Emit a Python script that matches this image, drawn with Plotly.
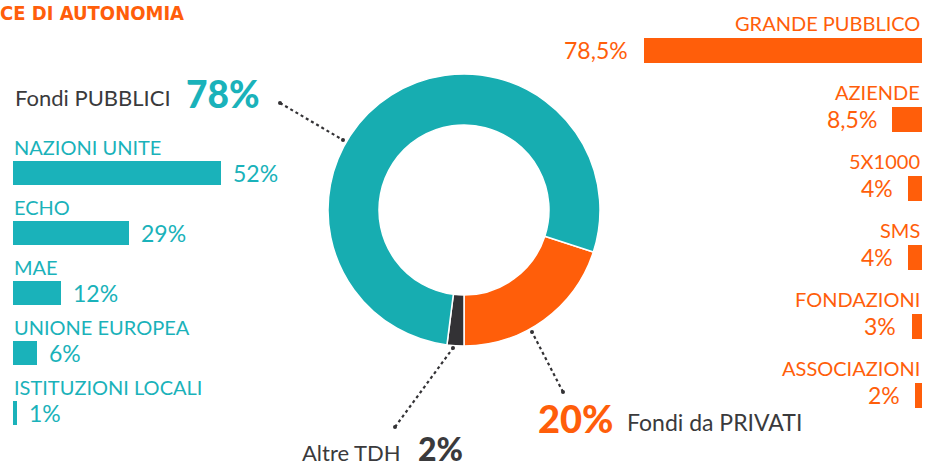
import plotly.graph_objects as go

W, H = 925, 467

TEAL = "#1AB2BA"
TEAL_RING = "#17ADB1"
ORANGE = "#FF5E0A"
DARK = "#333235"
GRAY = "#3A3A3C"
FONT = "Lato"
TITLE_FONT = "DejaVu Sans Condensed, Liberation Sans Narrow, Arial Narrow, sans-serif"

pie_labels = ["Fondi da PRIVATI", "Altre TDH", "Fondi PUBBLICI"]
pie_values = [20, 2, 78]

pub_cats = ["NAZIONI UNITE", "ECHO", "MAE", "UNIONE EUROPEA", "ISTITUZIONI LOCALI"]
pub_vals = [52, 29, 12, 6, 1]
pub_text = ["52%", "29%", "12%", "6%", "1%"]

priv_cats = ["GRANDE PUBBLICO", "AZIENDE", "5X1000", "SMS", "FONDAZIONI", "ASSOCIAZIONI"]
priv_vals = [78.5, 8.5, 4, 4, 3, 2]
priv_text = ["78,5%", "8,5%", "4%", "4%", "3%", "2%"]


def px(x):
    return x / W


def py(y):
    return 1 - y / H


fig = go.Figure()

# Donut
cx, cy, R = 464, 210, 136
fig.add_trace(go.Pie(
    labels=pie_labels, values=pie_values, hole=0.625, sort=False,
    direction="clockwise", rotation=108, textinfo="none", hoverinfo="label+percent",
    marker=dict(colors=[ORANGE, DARK, TEAL_RING], line=dict(color="white", width=1.5)),
    domain=dict(x=[px(cx - R), px(cx + R)], y=[py(cy + R), py(cy - R)]),
    showlegend=False,
))

# Public funds bars (left)
pub_idx = list(range(len(pub_cats)))
fig.add_trace(go.Bar(
    x=pub_vals, y=pub_idx, orientation="h", marker=dict(color=TEAL, line=dict(width=0)),
    width=0.39, xaxis="x", yaxis="y", showlegend=False, hovertext=pub_cats, hoverinfo="text+x",
))

# Private funds bars (right)
priv_idx = list(range(len(priv_cats)))
fig.add_trace(go.Bar(
    x=priv_vals, y=priv_idx, orientation="h", marker=dict(color=ORANGE, line=dict(width=0)),
    width=0.35, xaxis="x2", yaxis="y2", showlegend=False, hovertext=priv_cats, hoverinfo="text+x",
))

ax_common = dict(showgrid=False, zeroline=False, showticklabels=False, showline=False, ticks="", fixedrange=True)

fig.update_layout(
    width=W, height=H,
    margin=dict(l=0, r=0, t=0, b=0),
    paper_bgcolor="white", plot_bgcolor="rgba(0,0,0,0)",
    bargap=0,
    xaxis=dict(domain=[px(13), px(253)], range=[0, 60], **ax_common),
    yaxis=dict(domain=[py(443), py(143)], range=[4.5, -0.5], **ax_common),
    xaxis2=dict(domain=[px(602.5), px(922)], range=[90, 0], anchor="y2", **ax_common),
    yaxis2=dict(domain=[py(429.5), py(15.5)], range=[5.5, -0.5], anchor="x2", **ax_common),
)

ann = []
for i, (c, v, t) in enumerate(zip(pub_cats, pub_vals, pub_text)):
    ann.append(dict(x=0, y=i, xref="x", yref="y", text=c, showarrow=False, xanchor="left",
                    yanchor="middle", yshift=26, xshift=-1, font=dict(family=FONT, size=20, color=TEAL)))
    ann.append(dict(x=v, y=i, xref="x", yref="y", text=t, showarrow=False, xanchor="left",
                    yanchor="middle", xshift=10, font=dict(family=FONT, size=23, color=TEAL)))

for i, (c, v, t) in enumerate(zip(priv_cats, priv_vals, priv_text)):
    ann.append(dict(x=0, y=i, xref="x2", yref="y2", text=c, showarrow=False, xanchor="right",
                    yanchor="middle", yshift=27, xshift=0, font=dict(family=FONT, size=20, color=ORANGE)))
    ann.append(dict(x=v, y=i, xref="x2", yref="y2", text=t, showarrow=False, xanchor="right",
                    yanchor="middle", xshift=-13, font=dict(family=FONT, size=23, color=ORANGE)))

# Title fragment and callouts
ann += [
    dict(x=px(-2), y=py(13), xref="paper", yref="paper", text="<b>CE DI AUTONOMIA</b>", showarrow=False,
         xanchor="left", yanchor="middle", font=dict(family=TITLE_FONT, size=20, color=ORANGE)),
    dict(x=px(13), y=py(97), xref="paper", yref="paper", text="Fondi PUBBLICI", showarrow=False,
         xanchor="left", yanchor="middle", font=dict(family=FONT, size=22, color=GRAY)),
    dict(x=px(184), y=py(94), xref="paper", yref="paper", text="78%", showarrow=False,
         xanchor="left", yanchor="middle", font=dict(family=FONT, size=37, color=TEAL, weight=900)),
    dict(x=px(536), y=py(418), xref="paper", yref="paper", text="20%", showarrow=False,
         xanchor="left", yanchor="middle", font=dict(family=FONT, size=38, color=ORANGE, weight=900)),
    dict(x=px(625), y=py(422), xref="paper", yref="paper", text="Fondi da PRIVATI", showarrow=False,
         xanchor="left", yanchor="middle", font=dict(family=FONT, size=23, color=GRAY)),
    dict(x=px(300), y=py(452), xref="paper", yref="paper", text="Altre TDH", showarrow=False,
         xanchor="left", yanchor="middle", font=dict(family=FONT, size=22, color=GRAY)),
    dict(x=px(416), y=py(448), xref="paper", yref="paper", text="2%", showarrow=False,
         xanchor="left", yanchor="middle", font=dict(family=FONT, size=32, color=GRAY, weight=900)),
]
fig.update_layout(annotations=ann)

# Dotted leader lines with small end dots
leaders = [((280, 103), (343, 140)), ((395, 427), (453, 348)), ((563, 392), (532, 332))]
shapes = []
for (x0, y0), (x1, y1) in leaders:
    shapes.append(dict(type="line", xref="paper", yref="paper", x0=px(x0), y0=py(y0), x1=px(x1), y1=py(y1),
                       line=dict(color=DARK, width=2.2, dash="dot")))
    for (ex, ey) in [(x0, y0), (x1, y1)]:
        shapes.append(dict(type="circle", xref="paper", yref="paper", x0=px(ex - 2), x1=px(ex + 2),
                           y0=py(ey + 2), y1=py(ey - 2), fillcolor=DARK, line=dict(width=0)))
fig.update_layout(shapes=shapes)

fig.write_html("out.html", config={"displayModeBar": False},
               post_script="document.body.style.margin='0';")
